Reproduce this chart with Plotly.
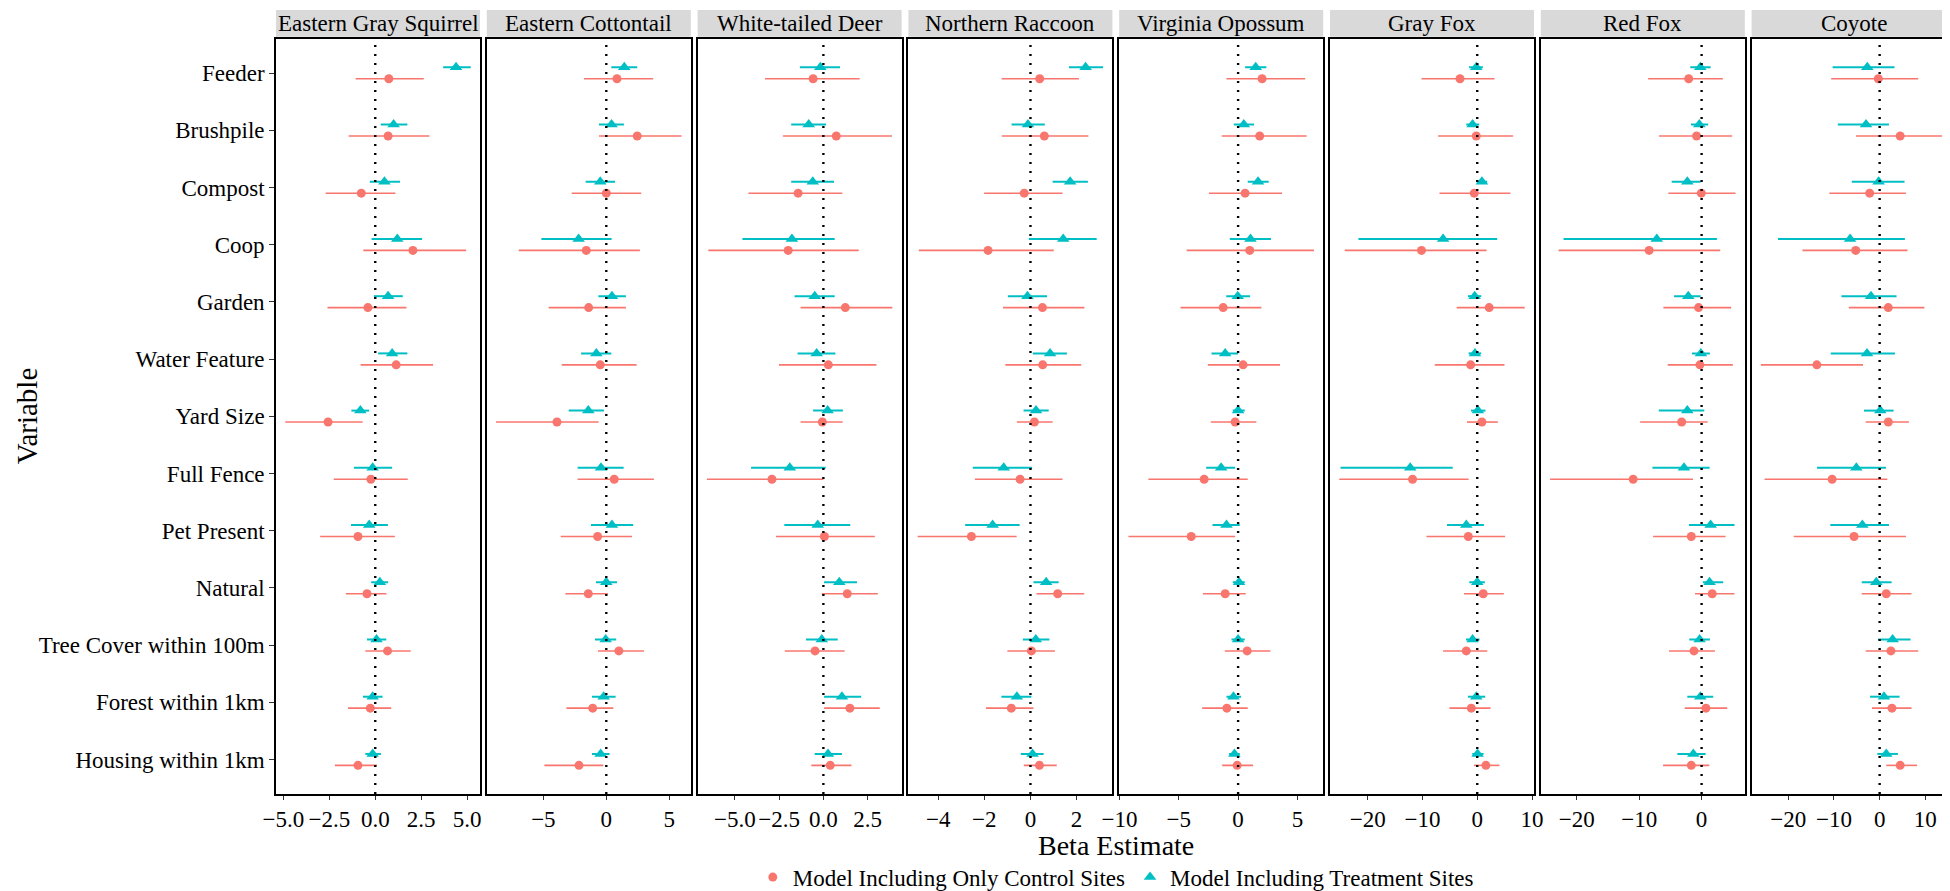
import numpy as np
import plotly.graph_objects as go

variables = ["Feeder", "Brushpile", "Compost", "Coop", "Garden", "Water Feature",
             "Yard Size", "Full Fence", "Pet Present", "Natural",
             "Tree Cover within 100m", "Forest within 1km", "Housing within 1km"]

species = ["Eastern Gray Squirrel", "Eastern Cottontail", "White-tailed Deer",
           "Northern Raccoon", "Virginia Opossum", "Gray Fox", "Red Fox", "Coyote"]

# model with only control sites (red circles)
ctrl_est = {
    "Eastern Gray Squirrel": [0.74, 0.7, -0.76, 2.05, -0.4, 1.14, -2.57, -0.24, -0.94, -0.45, 0.67, -0.27, -0.94],
    "Eastern Cottontail": [0.85, 2.46, 0.0, -1.59, -1.4, -0.48, -3.92, 0.63, -0.69, -1.43, 1.0, -1.08, -2.17],
    "White-tailed Deer": [-0.58, 0.73, -1.43, -1.99, 1.24, 0.28, -0.06, -2.91, 0.06, 1.35, -0.47, 1.5, 0.39],
    "Northern Raccoon": [0.4, 0.6, -0.27, -1.84, 0.52, 0.53, 0.17, -0.45, -2.56, 1.18, 0.04, -0.83, 0.39],
    "Virginia Opossum": [2.02, 1.82, 0.59, 0.98, -1.26, 0.42, -0.25, -2.86, -3.95, -1.09, 0.76, -0.95, -0.08],
    "Gray Fox": [-3.15, -0.18, -0.55, -10.18, 2.18, -1.21, 0.85, -11.82, -1.64, 1.09, -2.0, -1.09, 1.58],
    "Red Fox": [-2.07, -0.8, -0.05, -8.4, -0.48, -0.27, -3.19, -10.96, -1.65, 1.7, -1.22, 0.69, -1.65],
    "Coyote": [-0.29, 4.5, -2.18, -5.24, 1.89, -13.75, 1.89, -10.4, -5.6, 1.45, 2.47, 2.69, 4.5],
}
ctrl_lo = {
    "Eastern Gray Squirrel": [-1.07, -1.45, -2.7, -0.65, -2.6, -0.8, -4.9, -2.26, -3.0, -1.6, -0.54, -1.48, -2.2],
    "Eastern Cottontail": [-1.77, -0.58, -2.75, -6.96, -4.58, -3.54, -8.76, -2.28, -3.62, -3.25, -0.66, -3.17, -4.92],
    "White-tailed Deer": [-3.3, -2.29, -4.24, -6.51, -1.29, -2.51, -1.29, -6.59, -2.68, -0.09, -2.18, 0.04, -0.68],
    "Northern Raccoon": [-1.25, -1.24, -2.01, -4.84, -1.19, -1.09, -0.59, -2.41, -4.89, 0.26, -1.0, -1.93, -0.29],
    "Virginia Opossum": [-0.98, -1.37, -2.46, -4.34, -4.85, -2.55, -2.3, -7.56, -9.24, -2.97, -1.12, -3.03, -1.34],
    "Gray Fox": [-10.18, -7.15, -6.9, -24.2, -3.76, -7.76, -1.88, -25.2, -9.27, -2.42, -6.24, -5.09, -0.6],
    "Red Fox": [-8.56, -6.81, -5.32, -22.9, -6.12, -5.43, -9.84, -24.26, -7.77, -1.06, -5.21, -2.71, -6.17],
    "Coyote": [-10.6, -5.16, -11.0, -16.9, -6.76, -26.0, -3.05, -25.2, -18.8, -3.93, -3.05, -1.67, 1.45],
}
ctrl_hi = {
    "Eastern Gray Squirrel": [2.64, 2.95, 1.1, 4.95, 1.7, 3.15, -0.69, 1.77, 1.07, 0.61, 1.93, 0.87, 0.09],
    "Eastern Cottontail": [3.73, 5.98, 2.78, 2.67, 1.56, 2.41, -0.61, 3.78, 2.04, 0.13, 2.99, 0.56, -0.24],
    "White-tailed Deer": [2.05, 3.88, 1.07, 2.0, 3.9, 3.0, 1.09, 0.0, 2.91, 3.08, 1.2, 3.19, 1.59],
    "Northern Raccoon": [2.1, 2.51, 1.39, 1.01, 2.34, 2.2, 0.96, 1.39, -0.6, 2.33, 1.06, 0.13, 1.14],
    "Virginia Opossum": [5.66, 5.77, 3.7, 6.39, 1.96, 3.53, 1.54, 0.81, -0.25, 0.64, 2.72, 0.81, 1.26],
    "Gray Fox": [3.15, 6.55, 6.06, 1.7, 8.67, 4.97, 3.76, -1.58, 5.09, 4.85, 1.82, 2.42, 4.06],
    "Red Fox": [3.4, 4.89, 5.43, 2.98, 4.73, 5.0, 0.96, -1.38, 3.83, 5.27, 2.13, 4.1, 1.22],
    "Coyote": [8.44, 14.6, 5.75, 6.1, 9.8, -3.64, 6.4, 1.67, 5.75, 6.98, 8.44, 6.98, 8.2],
}

# model including treatment sites (cyan triangles)
trt_est = {
    "Eastern Gray Squirrel": [4.4, 1.0, 0.5, 1.2, 0.7, 0.92, -0.81, -0.14, -0.33, 0.25, 0.07, -0.14, -0.14],
    "Eastern Cottontail": [1.43, 0.42, -0.48, -2.2, 0.45, -0.79, -1.43, -0.42, 0.45, 0.0, -0.05, -0.21, -0.45],
    "White-tailed Deer": [-0.17, -0.83, -0.6, -1.78, -0.49, -0.38, 0.24, -1.9, -0.32, 0.9, -0.09, 1.05, 0.26],
    "Northern Raccoon": [2.39, -0.11, 1.72, 1.42, -0.13, 0.85, 0.24, -1.16, -1.64, 0.68, 0.23, -0.59, 0.09],
    "Virginia Opossum": [1.48, 0.48, 1.68, 1.04, -0.03, -1.09, 0.0, -1.43, -0.98, 0.08, 0.0, -0.39, -0.31],
    "Gray Fox": [-0.18, -0.85, 0.85, -6.24, -0.48, -0.42, 0.12, -12.24, -2.0, 0.0, -0.85, -0.18, 0.06],
    "Red Fox": [-0.21, -0.37, -2.29, -7.18, -2.13, -0.11, -2.29, -2.82, 1.44, 1.28, -0.32, -0.21, -1.33],
    "Coyote": [-2.7, -2.98, -0.22, -6.47, -1.89, -2.76, 0.15, -5.1, -3.78, -0.73, 2.84, 0.95, 1.45],
}
trt_lo = {
    "Eastern Gray Squirrel": [3.7, 0.3, -0.3, -0.2, -0.07, 0.16, -1.3, -1.16, -1.32, -0.22, -0.45, -0.67, -0.54],
    "Eastern Cottontail": [0.4, -0.58, -1.64, -5.16, -0.63, -2.0, -2.99, -2.28, -1.22, -0.82, -0.9, -1.14, -1.14],
    "White-tailed Deer": [-1.33, -1.82, -1.82, -4.58, -1.63, -1.46, -0.58, -4.09, -2.21, 0.04, -0.98, 0.04, -0.49],
    "Northern Raccoon": [1.67, -0.82, 0.96, -0.07, -0.98, 0.1, -0.3, -2.5, -2.83, 0.13, -0.33, -1.26, -0.42],
    "Virginia Opossum": [0.59, -0.36, 0.81, -0.7, -1.0, -2.24, -0.45, -2.69, -2.16, -0.45, -0.56, -0.98, -0.76],
    "Gray Fox": [-1.5, -2.0, -0.12, -21.7, -1.7, -1.58, -1.15, -24.97, -5.52, -1.45, -2.06, -1.7, -0.91],
    "Red Fox": [-1.81, -1.7, -4.79, -22.1, -4.41, -1.54, -6.86, -7.87, -2.02, 0.21, -1.97, -2.29, -3.88],
    "Coyote": [-10.3, -9.16, -6.1, -22.25, -8.36, -10.7, -3.42, -13.7, -10.8, -3.93, -0.36, -2.1, -0.5],
}
trt_hi = {
    "Eastern Gray Squirrel": [5.2, 1.75, 1.35, 2.55, 1.5, 1.75, -0.33, 0.92, 0.69, 0.7, 0.6, 0.4, 0.31],
    "Eastern Cottontail": [2.46, 1.4, 0.69, 0.42, 1.56, 0.4, -0.19, 1.38, 2.14, 0.85, 0.79, 0.74, 0.26],
    "White-tailed Deer": [0.94, 0.15, 0.6, 0.64, 0.64, 0.68, 1.1, 0.13, 1.52, 1.9, 0.81, 2.14, 1.05],
    "Northern Raccoon": [3.15, 0.62, 2.49, 2.87, 0.72, 1.58, 0.79, 0.07, -0.47, 1.22, 0.82, 0.04, 0.57],
    "Virginia Opossum": [2.38, 1.34, 2.58, 2.77, 1.01, 0.0, 0.56, -0.25, 0.14, 0.56, 0.56, 0.25, 0.14],
    "Gray Fox": [1.03, 0.36, 1.82, 3.64, 0.73, 0.73, 1.5, -4.48, 1.21, 1.39, 0.42, 1.45, 1.15],
    "Red Fox": [1.44, 1.06, -0.16, 2.45, -0.16, 1.33, 0.43, 1.28, 5.27, 3.46, 1.33, 1.86, 0.64],
    "Coyote": [3.27, 2.04, 5.45, 5.53, 3.7, 3.35, 3.05, 1.38, 2.04, 2.62, 6.76, 4.36, 4.0],
}

x_ticks = {
    "Eastern Gray Squirrel": [-5.0, -2.5, 0.0, 2.5, 5.0],
    "Eastern Cottontail": [-5, 0, 5],
    "White-tailed Deer": [-5.0, -2.5, 0.0, 2.5],
    "Northern Raccoon": [-4, -2, 0, 2],
    "Virginia Opossum": [-10, -5, 0, 5],
    "Gray Fox": [-20, -10, 0, 10],
    "Red Fox": [-20, -10, 0],
    "Coyote": [-20, -10, 0, 10],
}
one_decimal = ["Eastern Gray Squirrel", "White-tailed Deer"]

RED = "#F8766D"
CYAN = "#00BFC4"
FONT = "Liberation Serif, Times New Roman, serif"
W, H = 1950, 891

n = len(variables)
ypos = np.arange(n)[::-1].astype(float)

# panel geometry (pixels)
left, pw, step = 268, 204, 210.8
ptop, pbot = 31, 794
y_dom = [1 - pbot / H, 1 - ptop / H]

fig = go.Figure()
shapes = []
annotations = []

for i, sp in enumerate(species):
    ax = "" if i == 0 else str(i + 1)
    models = [
        ("Model Including Only Control Sites", ctrl_est, ctrl_lo, ctrl_hi, RED, "circle", 9, -0.1, 1.6),
        ("Model Including Treatment Sites", trt_est, trt_lo, trt_hi, CYAN, "triangle-up", 11, 0.1, 2.0),
    ]
    for name, est, lo, hi, color, sym, size, off, lw in models:
        e = np.array(est[sp])
        l = np.array(lo[sp])
        h = np.array(hi[sp])
        fig.add_trace(go.Scatter(
            x=e, y=ypos + off, mode="markers", name=name, legendgroup=name,
            showlegend=(i == 0), xaxis="x" + ax, yaxis="y" + ax,
            marker=dict(color=color, symbol=sym, size=size, line=dict(width=0)),
            error_x=dict(type="data", symmetric=False, array=h - e, arrayminus=e - l,
                         width=0, thickness=lw, color=color),
        ))

    lo_all = min(min(ctrl_lo[sp]), min(trt_lo[sp]))
    hi_all = max(max(ctrl_hi[sp]), max(trt_hi[sp]))
    pad = 0.05 * (hi_all - lo_all)

    x0 = (left + i * step) / W
    x1 = (left + i * step + pw) / W
    fig.layout["xaxis" + ax] = dict(
        domain=[x0, x1], anchor="y" + ax, range=[lo_all - pad, hi_all + pad],
        tickvals=x_ticks[sp], tickformat=".1f" if sp in one_decimal else "",
        tickangle=0, automargin=False,
        ticks="outside", ticklen=4, tickcolor="#333333", tickwidth=1.2,
        showline=True, mirror=True, linecolor="black", linewidth=1.6,
        showgrid=False, zeroline=False,
        tickfont=dict(size=23, color="black", family=FONT),
    )
    fig.layout["yaxis" + ax] = dict(
        domain=y_dom, anchor="x" + ax, range=[-0.6, n - 1 + 0.6],
        tickvals=list(ypos), ticktext=variables, showticklabels=(i == 0),
        automargin=False,
        ticks="outside" if i == 0 else "", ticklen=5, tickcolor="#333333", tickwidth=1.2,
        showline=True, mirror=True, linecolor="black", linewidth=1.6,
        showgrid=False, zeroline=False,
        tickfont=dict(size=23, color="black", family=FONT),
    )

    shapes.append(dict(type="line", xref="x" + ax, yref="y" + ax + " domain",
                       x0=0, x1=0, y0=0, y1=1, layer="above",
                       line=dict(color="black", width=2.4, dash="2px,7px")))
    shapes.append(dict(type="rect", xref="paper", yref="paper",
                       x0=x0, x1=x1, y0=1 - 29 / H, y1=1 - 2 / H,
                       fillcolor="#D9D9D9", line=dict(width=0), layer="below"))
    annotations.append(dict(text=sp, xref="paper", yref="paper",
                            x=(x0 + x1) / 2, y=1 - 15.5 / H, showarrow=False,
                            xanchor="center", yanchor="middle",
                            font=dict(size=23, color="black", family=FONT)))

mid = (left + (left + 7 * step + pw)) / 2 / W
annotations.append(dict(text="Beta Estimate", xref="paper", yref="paper",
                        x=mid, y=1 - 846 / H, showarrow=False,
                        xanchor="center", yanchor="middle",
                        font=dict(size=28, color="black", family=FONT)))
annotations.append(dict(text="Variable", xref="paper", yref="paper",
                        x=19 / W, y=1 - (ptop + pbot) / 2 / H, showarrow=False,
                        textangle=-90, xanchor="center", yanchor="middle",
                        font=dict(size=29, color="black", family=FONT)))

fig.update_layout(
    width=W, height=H,
    margin=dict(l=0, r=0, t=0, b=0),
    paper_bgcolor="white", plot_bgcolor="white",
    font=dict(family=FONT, color="black"),
    shapes=shapes, annotations=annotations,
    showlegend=True,
    legend=dict(orientation="h", x=mid, xanchor="center", y=1 - 878 / H, yanchor="middle",
                font=dict(size=23, color="black", family=FONT),
                bgcolor="rgba(0,0,0,0)", itemwidth=30),
)

fig.write_html("out.html")
